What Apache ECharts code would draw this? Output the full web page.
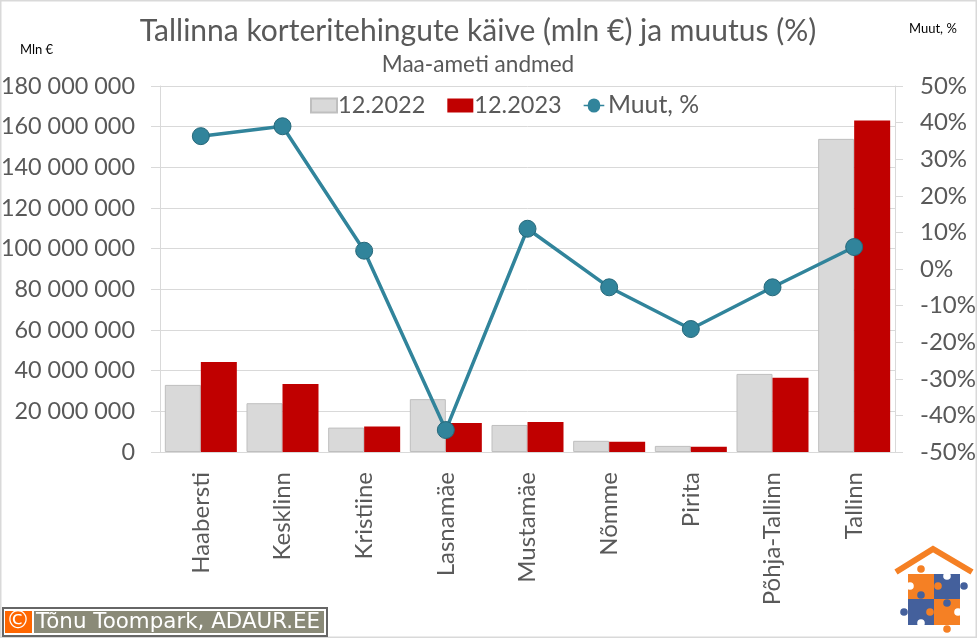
<!DOCTYPE html>
<html>
<head>
<meta charset="utf-8">
<style>
  html, body { margin: 0; padding: 0; background: #fff; }
  #chart { width: 977px; height: 638px; }
</style>
<script src="https://cdn.jsdelivr.net/npm/echarts@6/dist/echarts.min.js"></script>
</head>
<body>
<div id="chart"></div>
<script>
const categories = ['Haabersti', 'Kesklinn', 'Kristiine', 'Lasnamäe', 'Mustamäe', 'Nõmme', 'Pirita', 'Põhja-Tallinn', 'Tallinn']
const turnover2022 = [33000000, 24000000, 12000000, 26000000, 13300000, 5500000, 3000000, 38400000, 154000000]
const turnover2023 = [44300000, 33500000, 12500000, 14300000, 14800000, 5000000, 2600000, 36500000, 163000000]
const changePct = [36.3, 39, 5, -44, 11, -5, -16.4, -5, 6]

const font = 'Lato'
const grey = '#595959'
const gridGrey = '#D9D9D9'
const orange = '#F58024'
const blue = '#44609C'
const teal = '#31849B'
// legend key of the line: thin stroke through a round marker
const lineKey = 'path://M0 6H5.5A8.5 8.5 0 0 1 22.5 6H28V8H22.5A8.5 8.5 0 0 1 5.5 8H0Z'

const chart = echarts.init(document.getElementById('chart'), null, { renderer: 'canvas' })

const rect = (x, y, width, height, fill) => ({ type: 'rect', shape: { x, y, width, height }, style: { fill } })
const knob = (cx, cy, fill) => ({ type: 'circle', shape: { cx, cy, r: 3.8 }, style: { fill } })

chart.setOption({
  animation: false,
  backgroundColor: '#fff',
  textStyle: { fontFamily: font },
  title: {
    text: 'Tallinna korteritehingute käive (mln €) ja muutus (%)',
    subtext: 'Maa-ameti andmed',
    left: 473,
    textAlign: 'center',
    top: 11,
    itemGap: 7,
    textStyle: { fontFamily: font, fontWeight: 400, fontSize: 30, color: grey },
    subtextStyle: { fontFamily: font, fontSize: 22.6, color: grey },
  },
  legend: {
    top: 88,
    left: 305,
    itemWidth: 26,
    itemHeight: 14,
    itemGap: 22,
    textStyle: { fontFamily: font, fontSize: 23.5, color: grey, padding: [0, 0, 0, -4] },
    data: [
      { name: '12.2022', icon: 'rect' },
      { name: '12.2023', icon: 'rect' },
      { name: 'Muut, %', icon: lineKey, itemStyle: { color: teal, borderWidth: 0 }, textStyle: { fontSize: 24.8 } },
    ],
  },
  grid: { left: 160, right: 82, top: 86, bottom: 186, outerBoundsMode: 'none' },
  xAxis: {
    type: 'category',
    data: categories,
    axisLine: { lineStyle: { color: gridGrey, width: 1 } },
    axisTick: { show: false },
    axisLabel: { rotate: 90, fontSize: 24, color: grey, margin: 20, fontFamily: font },
  },
  yAxis: [
    {
      type: 'value',
      min: 0,
      max: 180000000,
      interval: 20000000,
      axisLine: { show: true, lineStyle: { color: gridGrey } },
      axisTick: { show: true, length: 9, lineStyle: { color: gridGrey } },
      splitLine: { lineStyle: { color: gridGrey } },
      axisLabel: {
        fontSize: 23.4,
        color: grey,
        margin: 25,
        fontFamily: font,
        formatter: (v) => String(v).replace(/\B(?=(\d{3})+$)/g, ' '),
      },
    },
    {
      type: 'value',
      min: -50,
      max: 50,
      interval: 10,
      axisLine: { show: true, lineStyle: { color: gridGrey } },
      axisTick: { show: true, length: 8, lineStyle: { color: gridGrey } },
      splitLine: { show: false },
      axisLabel: { fontSize: 24, color: grey, margin: 25, align: 'left', fontFamily: font, formatter: '{value}%' },
    },
  ],
  series: [
    {
      name: '12.2022',
      type: 'bar',
      data: turnover2022,
      barWidth: 36,
      barGap: 0,
      itemStyle: { color: gridGrey, borderColor: '#BFBFBF', borderWidth: 1 },
    },
    {
      name: '12.2023',
      type: 'bar',
      data: turnover2023,
      barWidth: 36,
      itemStyle: { color: '#C00000' },
    },
    {
      name: 'Muut, %',
      type: 'line',
      yAxisIndex: 1,
      data: changePct,
      symbol: 'circle',
      symbolSize: 17,
      lineStyle: { color: teal, width: 3.5 },
      itemStyle: { color: teal, borderColor: '#26687A', borderWidth: 1 },
      z: 5,
    },
  ],
  graphic: [
    { type: 'rect', shape: { x: 0.5, y: 0.5, width: 976, height: 637 }, style: { fill: 'none', stroke: gridGrey, lineWidth: 2 }, silent: true },
    { type: 'text', x: 20, y: 43, style: { text: 'Mln €', fontFamily: font, fontSize: 13, fill: '#000' } },
    { type: 'text', x: 909, y: 22, style: { text: 'Muut, %', fontFamily: font, fontSize: 13, fill: '#000' } },
    // footer badge
    { type: 'rect', shape: { x: 3, y: 608, width: 324, height: 28 }, style: { fill: '#fff', stroke: '#666666', lineWidth: 2 } },
    rect(5, 611, 27, 22, '#FF6600'),
    rect(34, 611, 290, 22, '#8A8A78'),
    { type: 'text', x: 18, y: 622, style: { text: '©', fontFamily: 'DejaVu Sans', fontSize: 24, fill: '#fff', align: 'center', verticalAlign: 'middle' } },
    { type: 'text', x: 36, y: 622, style: { text: 'Tõnu Toompark, ADAUR.EE', fontFamily: 'DejaVu Sans', fontSize: 21.4, fill: '#fff', verticalAlign: 'middle' } },
    // logo
    { type: 'polyline', shape: { points: [[896, 572], [933, 549], [972, 572]] }, style: { fill: 'none', stroke: orange, lineWidth: 6 } },
    rect(908, 574, 26, 25, orange),
    rect(934, 574, 26, 25, blue),
    rect(908, 599, 26, 26, blue),
    rect(934, 599, 26, 26, orange),
    knob(921, 569, orange),
    knob(910, 586, '#fff'),
    knob(938, 586, orange),
    knob(947, 576, '#fff'),
    knob(964, 586, blue),
    knob(921, 595, blue),
    knob(947, 603, blue),
    knob(958, 612, '#fff'),
    knob(930, 612, orange),
    knob(904, 612, blue),
    knob(921, 623, '#fff'),
    knob(947, 629, orange),
  ],
})
</script>
</body>
</html>
